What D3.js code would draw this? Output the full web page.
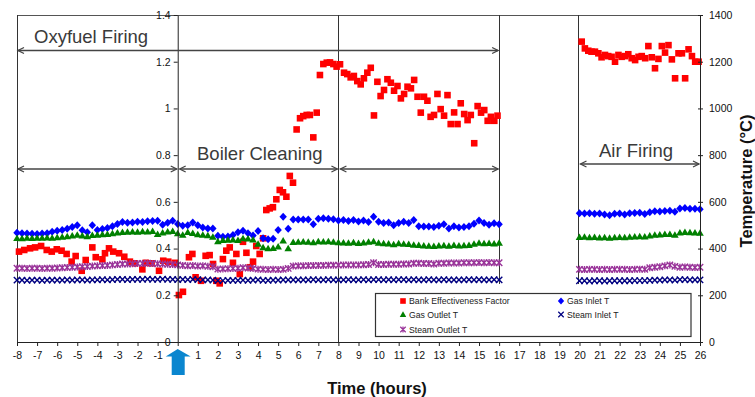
<!DOCTYPE html>
<html><head><meta charset="utf-8">
<script src="https://cdn.jsdelivr.net/npm/d3@7"></script>
<style>
body{margin:0;background:#fff}
svg{display:block}
text{font-family:"Liberation Sans",Arial,sans-serif}
</style>
</head><body>
<svg id="chart" width="755" height="397"></svg>
<script>
// ---------- DATA ----------
const xTickValues = [-8,-7,-6,-5,-4,-3,-2,-1,0,1,2,3,4,5,6,7,8,9,10,11,12,13,14,15,16,17,18,19,20,21,22,23,24,25,26];
const leftTickValues = [0,0.2,0.4,0.6,0.8,1,1.2,1.4];
const rightTickValues = [0,200,400,600,800,1000,1200,1400];

// Bank Effectiveness Factor (left axis)
const befHours = [
 -7.9,-7.64,-7.35,-7.1,-6.8,-6.52,-6.27,-6.02,-5.78,-5.53,-5.28,-5.08,-4.78,-4.58,-4.25,-4.08,
 -3.75,-3.62,-3.42,-3.21,-2.92,-2.66,-2.38,-2.13,-1.76,-1.59,-1.3,-0.93,-0.72,-0.47,-0.14,
 0.06,0.26,0.56,0.73,0.89,1.16,1.39,1.59,1.76,1.92,2.09,2.25,2.42,2.59,2.75,2.92,3.09,3.25,
 3.42,3.59,3.75,3.91,4.08,4.25,4.41,4.58,4.74,4.91,5.08,5.24,5.41,5.58,5.74,5.92,6.09,6.25,
 6.42,6.58,6.75,6.92,7.08,7.25,7.42,7.58,7.75,7.91,
 8.08,8.28,8.44,8.61,8.77,8.94,9.11,9.27,9.44,9.61,9.77,9.94,10.1,10.27,10.44,10.61,10.77,10.94,
 11.11,11.27,11.44,11.61,11.77,11.94,12.1,12.26,12.43,12.59,12.76,12.93,13.09,13.26,13.43,13.59,
 13.76,13.93,14.09,14.26,14.43,14.59,14.76,14.93,15.1,15.26,15.43,15.59,15.76,15.92,
 20.11,20.27,20.44,20.6,20.77,20.94,21.1,21.27,21.43,21.6,21.77,21.94,22.1,22.27,22.43,22.6,
 22.77,22.94,23.1,23.27,23.43,23.6,23.76,23.93,24.1,24.26,24.43,24.6,24.76,24.93,25.1,25.26,
 25.43,25.6,25.76,25.93
];
const befValues = [
 0.387,0.394,0.401,0.405,0.411,0.394,0.387,0.397,0.391,0.377,0.344,0.368,0.305,0.351,0.405,0.363,
 0.354,0.38,0.401,0.387,0.38,0.365,0.344,0.337,0.311,0.339,0.337,0.305,0.348,0.344,0.339,
 0.201,0.215,0.363,0.377,0.277,0.262,0.369,0.372,0.334,0.262,0.251,0.355,0.391,0.405,0.339,0.377,0.291,0.429,
 0.382,0.32,0.344,0.411,0.377,0.444,0.565,0.572,0.577,0.611,0.651,0.641,0.622,0.711,0.682,0.91,0.958,0.967,
 0.972,0.972,0.876,0.982,1.143,1.19,1.196,1.197,1.19,1.179,
 1.189,1.153,1.147,1.133,1.139,1.117,1.103,1.129,1.153,1.174,0.97,1.114,1.053,1.079,1.125,1.11,1.076,1.096,
 1.043,1.062,1.093,1.086,1.122,1.05,0.982,1.05,1.033,0.964,0.972,1.062,0.997,0.969,1.057,0.933,
 0.983,0.933,1.022,0.976,0.95,0.972,0.851,1.01,0.982,0.993,0.947,0.964,0.947,0.969,
 1.286,1.257,1.247,1.243,1.243,1.236,1.219,1.229,1.224,1.221,1.2,1.229,1.221,1.224,1.232,1.215,
 1.207,1.221,1.224,1.215,1.267,1.219,1.172,1.212,1.267,1.239,1.271,1.21,1.129,1.236,1.236,1.129,
 1.253,1.224,1.2,1.2
];

// Temperatures (right axis), sampled every 15 min: -8..16 h and 20..26 h
const oxyHours = d3.range(-8, 16.001, 0.25);
const airHours = d3.range(20, 26.001, 0.25);

const gasInletOxy = [
 468,466,465,463, 462,464,466,472, 476,480,485,492, 500,478,470,500,
 480,484,488,496, 505,514,511,512, 515,514,517,518, 519,502,511,519,
 505,498,500,512, 500,490,486,486, 455,451,452,458, 470,476,466,456,
 475,444,440,442, 480,536,485,525, 524,525,524,504, 528,530,528,526,
 520,522,518,522, 516,520,514,536, 515,510,512,500, 510,515,510,522,
 496,495,494,492, 498,504,486,496, 490,492,496,506, 520,510,502,508, 504];
const gasOutletOxy = [
 444,443,445,444, 446,445,447,446, 448,450,452,455, 458,455,452,457,
 458,460,462,465, 468,470,471,472, 471,473,472,474, 462,468,472,474,
 465,458,470,466, 460,458,456,450, 430,436,437,438, 436,443,442,438,
 420,405,401,402, 408,434,400,427, 428,429,428,426, 430,429,430,428,
 426,425,424,426, 423,425,428,430, 424,422,421,418, 422,420,419,416,
 414,412,411,410, 412,413,411,414, 412,413,414,420, 424,422,423,421, 424];
const steamInletOxy = [
 265,265,264,265, 265,264,265,265, 265,265,266,265, 266,266,265,266,
 266,267,266,267, 268,268,267,268, 268,268,269,268, 268,269,268,268,
 267,268,267,268, 267,266,266,265, 263,263,264,264, 264,265,264,265,
 266,264,264,265, 265,266,266,266, 266,266,266,267, 266,266,267,266,
 266,266,267,266, 266,267,266,267, 267,266,267,266, 267,267,266,267,
 266,266,267,266, 266,267,266,266, 266,266,267,266, 267,266,266,267, 266];
const steamOutletOxy = [
 316,316,315,316, 316,315,316,316, 317,318,319,320, 321,322,323,325,
 326,327,328,330, 332,334,334,335, 336,336,337,336, 335,334,333,332,
 330,328,326,327, 325,326,324,322, 312,313,314,315, 316,318,317,315,
 312,311,310,311, 310,311,315,325, 326,326,327,327, 328,328,329,329,
 329,330,330,330, 330,331,332,339, 332,332,333,333, 333,334,334,337,
 337,336,336,334, 337,337,338,338, 338,339,339,339, 340,339,340,339, 339];

const gasInletAir = [551,550,551,549,550,546,543,549,550,546,551,552,553,548,556,560,559,561,562,558,572,574,571,570,568];
const gasOutletAir = [449,450,448,449,447,448,446,448,449,448,450,451,452,451,455,458,459,462,462,458,468,470,469,468,467];
const steamInletAir = [262,262,261,262,262,261,262,262,262,262,262,263,263,263,264,265,265,266,266,265,267,267,266,266,266];
const steamOutletAir = [311,310,311,311,310,311,310,311,311,311,310,311,312,311,318,320,322,326,330,324,320,321,320,319,320];

const phaseLabels = ["Oxyfuel Firing","Boiler Cleaning","Air Firing"];
const seriesNames = ["Bank Effectiveness Factor","Gas Inlet T","Gas Outlet T","Steam Inlet T","Steam Outlet T"];

// ---------- DRAW ----------
const svg = d3.select("#chart");
const x = d3.scaleLinear().domain([-8,26]).range([17,700]);
const yL = d3.scaleLinear().domain([0,1.4]).range([342,15]);
const yR = d3.scaleLinear().domain([0,1400]).range([342,15]);

const markers = {
  square:  {d:"M-3.3,-3.3h6.6v6.6h-6.6z", fill:true},
  diamond: {d:"M0,-4L3.7,0L0,4L-3.7,0Z", fill:true},
  triangle:{d:"M0,-3.7L3.8,2.8L-3.8,2.8Z", fill:true},
  cross:   {d:"M-3.2,-3.2L3.2,3.2M-3.2,3.2L3.2,-3.2", fill:false},
  star:    {d:"M-3.2,-3.2L3.2,3.2M-3.2,3.2L3.2,-3.2M0,-3.5L0,3.5", fill:false}
};
const styles = [
  {name:seriesNames[0], m:"square",  c:"#ff0000"},
  {name:seriesNames[1], m:"diamond", c:"#0000ff"},
  {name:seriesNames[2], m:"triangle",c:"#008000"},
  {name:seriesNames[3], m:"cross",   c:"#000080"},
  {name:seriesNames[4], m:"star",    c:"#993399"}
];
function drawPoints(g, pts, st, scale){
  const mk = markers[st.m];
  const s = scale || 1;
  g.selectAll(null).data(pts).enter().append("path")
    .attr("transform", d => `translate(${d[0]},${d[1]}) scale(${s})`)
    .attr("d", mk.d)
    .attr("fill", mk.fill ? st.c : "none")
    .attr("stroke", mk.fill ? "none" : st.c)
    .attr("stroke-width", mk.fill ? 0 : 1.4);
}

// frame lines
const lineCol = "#333";
svg.append("line").attr("x1",17).attr("x2",700).attr("y1",15.5).attr("y2",15.5).attr("stroke","#555");
svg.append("line").attr("x1",17.5).attr("x2",17.5).attr("y1",15).attr("y2",342).attr("stroke",lineCol);
svg.append("line").attr("x1",Math.round(x(8))+0.5).attr("x2",Math.round(x(8))+0.5).attr("y1",15).attr("y2",342).attr("stroke",lineCol);
svg.append("line").attr("x1",Math.round(x(16))+0.5).attr("x2",Math.round(x(16))+0.5).attr("y1",15).attr("y2",284).attr("stroke",lineCol);
svg.append("line").attr("x1",Math.round(x(20))-0.5).attr("x2",Math.round(x(20))-0.5).attr("y1",15).attr("y2",284).attr("stroke",lineCol);

// data
const gData = svg.append("g");
drawPoints(gData, befHours.map((h,i)=>[x(h), yL(befValues[i])]), styles[0]);
const tempSeries = [
  [gasInletOxy, gasInletAir, styles[1]],
  [gasOutletOxy, gasOutletAir, styles[2]],
  [steamInletOxy, steamInletAir, styles[3]],
  [steamOutletOxy, steamOutletAir, styles[4]]
];
tempSeries.forEach(([a,b,st])=>{
  const pts = oxyHours.map((h,i)=>[x(h), yR(a[i])]).concat(airHours.map((h,i)=>[x(h), yR(b[i])]));
  drawPoints(gData, pts, st);
});

// axes
const axCol = "#222";
const gx = svg.append("g").attr("transform","translate(0,342)")
  .call(d3.axisBottom(x).tickValues(xTickValues).tickSize(4).tickSizeOuter(0).tickPadding(6).tickFormat(d=>String(d)));
const gl = svg.append("g").attr("transform",`translate(${x(0)},0)`)
  .call(d3.axisLeft(yL).tickValues(leftTickValues).tickSize(4).tickSizeOuter(0).tickPadding(3).tickFormat(d=>String(d)));
const gr = svg.append("g").attr("transform","translate(700,0)")
  .call(d3.axisRight(yR).tickValues(rightTickValues).tickSize(3).tickSizeOuter(0).tickPadding(6).tickFormat(d=>String(d)));
gr.selectAll(".tick line").attr("x1",-2);
[gx,gl,gr].forEach(g=>{
  g.selectAll("path.domain").attr("stroke",axCol);
  g.selectAll(".tick line").attr("stroke",axCol);
  g.selectAll("text").attr("font-size","10.5px").attr("fill","#111").attr("font-family","'Liberation Sans',Arial,sans-serif");
});

// phase arrows
const arrCol = "#444";
function arrow(x1,x2,y,lh,rh){
  const g = svg.append("g").attr("stroke",arrCol).attr("stroke-width",1.3).attr("fill","none");
  g.append("line").attr("x1",x1).attr("x2",x2).attr("y1",y).attr("y2",y);
  if(lh) g.append("path").attr("d",`M${x1+6},${y-3}L${x1},${y}L${x1+6},${y+3}`);
  if(rh) g.append("path").attr("d",`M${x2-6},${y-3}L${x2},${y}L${x2-6},${y+3}`);
}
arrow(x(-8)+1, x(16)-1, 50.5, true, true);
arrow(x(-8)+1, x(0)-1, 169, true, true);
arrow(x(0)+2, x(8)-1, 169, true, true);
arrow(x(8)+2, x(16)-1, 169, true, true);
arrow(x(20)+1, x(26)-1, 164, true, true);

const lblStyle = g => g.attr("font-size","18.5px").attr("fill","#3a3a3a");
svg.append("text").attr("x",34).attr("y",43).text(phaseLabels[0]).call(lblStyle);
svg.append("text").attr("x",197).attr("y",160).text(phaseLabels[1]).call(lblStyle);
svg.append("text").attr("x",599).attr("y",157).text(phaseLabels[2]).call(lblStyle);

// axis titles
svg.append("text").attr("x",377).attr("y",394).attr("text-anchor","middle")
  .attr("font-size","16.5px").attr("font-weight","bold").attr("fill","#111").text("Time (hours)");
svg.append("text").attr("transform","translate(752,181) rotate(-90)").attr("text-anchor","middle")
  .attr("font-size","16.5px").attr("font-weight","bold").attr("fill","#111").text("Temperature (°C)");

// blue event arrow at t = 0
const ax0 = x(0);
svg.append("path")
  .attr("d",`M${ax0},349L${ax0+13},356.5L${ax0+7},356.5L${ax0+7},375L${ax0-6},375L${ax0-6},356.5L${ax0-12},356.5Z`)
  .attr("fill","#0a86cf");

// legend
const lg = svg.append("g");
lg.append("rect").attr("x",375.5).attr("y",293.5).attr("width",315.5).attr("height",43)
  .attr("fill","#fff").attr("stroke","#333").attr("stroke-width",1.2);
const legendPos = [
  [403,301,styles[0]],[561,301,styles[1]],
  [403,314.5,styles[2]],[561,314.5,styles[3]],
  [403,329.5,styles[4]]
];
legendPos.forEach(([lx,ly,st])=>{
  drawPoints(lg, [[lx,ly]], st, 0.85);
  lg.append("text").attr("x",lx+6).attr("y",ly+3.2).attr("font-size","8.7px").attr("fill","#222").text(st.name);
});
</script>
</body></html>
